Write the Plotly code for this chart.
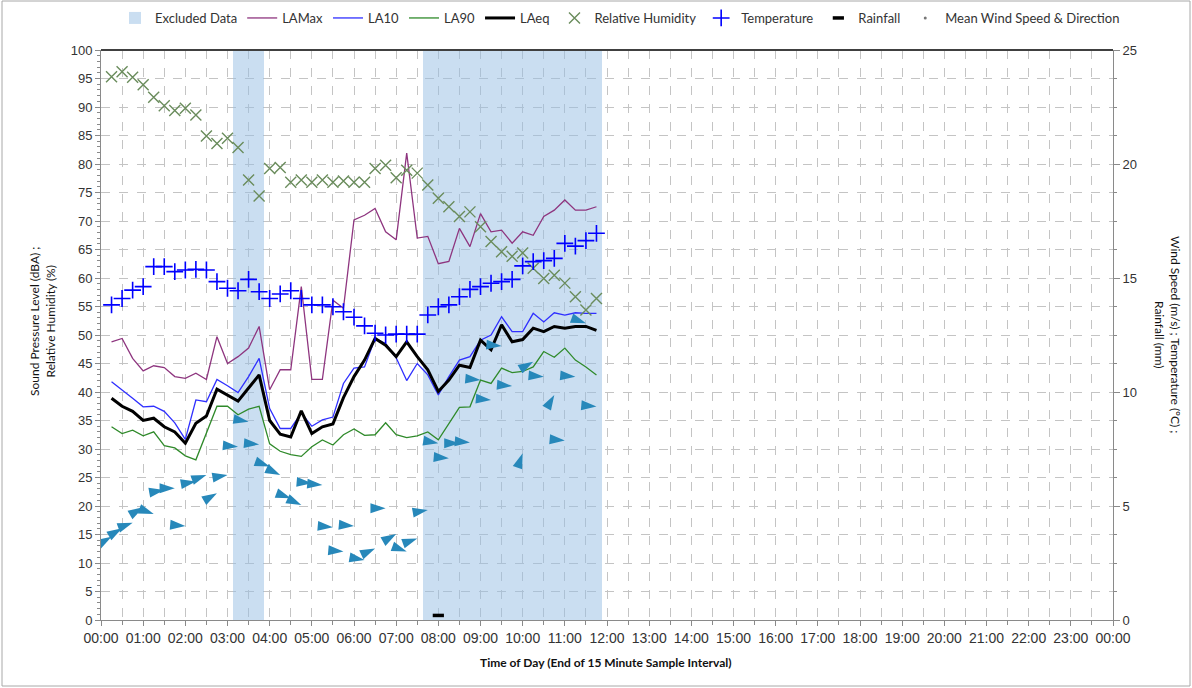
"""Noise monitoring chart: sound levels, weather and wind for one day"""

import pandas as pd
import plotly.graph_objects as go
from plotly.subplots import make_subplots

# 15 minute intervals, end-of-interval time stamps 00:15 .. 11:45
times = pd.date_range("2024-01-01 00:15", periods=47, freq="15min")

la_max = [48.8, 49.4, 45.9, 43.7, 44.6, 44.3, 42.7, 42.4, 43.3, 42.2,
          49.7, 45.0, 46.2, 47.7, 51.5, 40.4, 43.9, 43.9, 58.5, 42.2,
          42.2, 56.1, 54.7, 70.2, 71.0, 72.2, 68.1, 66.7, 81.9, 67.0,
          67.3, 62.5, 62.9, 68.7, 65.5, 71.3, 68.1, 68.4, 66.1, 68.1,
          67.5, 70.8, 71.9, 73.7, 71.9, 71.9, 72.5]
la_10 = [41.8, 40.4, 38.9, 37.4, 37.5, 36.6, 34.6, 31.7, 38.6, 38.3,
         42.2, 41.1, 39.9, 42.7, 45.9, 37.1, 33.6, 33.6, 36.3, 34.0,
         35.1, 35.6, 41.5, 44.2, 44.4, 49.4, 48.5, 46.0, 42.0, 45.0,
         43.0, 39.5, 42.7, 45.6, 46.2, 49.1, 50.0, 53.2, 50.6, 50.6,
         53.8, 52.3, 53.9, 53.5, 53.9, 53.8, 53.8]
la_90 = [33.9, 32.7, 33.3, 32.3, 33.0, 30.6, 30.2, 28.8, 28.1, 32.8,
         37.5, 37.5, 36.0, 37.0, 37.5, 30.9, 29.6, 29.0, 28.7, 30.4,
         31.6, 30.7, 32.5, 33.5, 32.4, 32.5, 34.6, 32.5, 32.0, 32.3,
         33.0, 31.6, 34.5, 37.3, 37.4, 42.1, 41.5, 44.2, 43.4, 43.6,
         44.4, 47.1, 46.1, 47.7, 45.6, 44.4, 43.0]
la_eq = [38.9, 37.5, 36.6, 35.0, 35.4, 33.9, 33.0, 31.0, 34.5, 35.8,
         40.5, 39.5, 38.4, 40.7, 43.0, 35.0, 32.6, 32.1, 36.7, 32.7,
         33.9, 34.4, 39.0, 42.7, 45.6, 49.4, 48.2, 46.2, 48.8, 46.2,
         43.9, 40.1, 42.1, 44.7, 44.3, 49.1, 47.4, 51.8, 48.8, 49.2,
         51.2, 50.6, 51.5, 51.2, 51.5, 51.5, 50.8]
humidity = [95.3, 96.2, 95.2, 93.9, 91.7, 90.2, 89.4, 89.8, 88.6, 84.9,
            83.6, 84.5, 82.9, 77.2, 74.4, 79.2, 79.4, 76.8, 77.2, 76.8,
            77.2, 76.8, 77.0, 76.8, 76.8, 79.2, 79.8, 77.6, 78.9, 78.4,
            76.3, 74.0, 72.5, 70.8, 71.6, 69.0, 66.4, 64.6, 63.8, 64.4,
            61.7, 59.9, 60.5, 59.1, 56.7, 54.4, 56.4]
temperature = [13.82, 14.10, 14.47, 14.62, 15.50, 15.50, 15.28, 15.35, 15.38, 15.35,
               14.84, 14.55, 14.44, 14.94, 14.40, 14.10, 14.30, 14.44, 14.10, 13.82,
               13.82, 13.74, 13.52, 13.28, 12.90, 12.58, 12.50, 12.54, 12.54, 12.54,
               13.38, 13.74, 13.82, 14.18, 14.50, 14.62, 14.77, 14.84, 14.94, 15.53,
               15.72, 15.76, 15.86, 16.52, 16.40, 16.64, 16.96]
rainfall = [0.0] * 31 + [0.2] + [0.0] * 15
wind_speed = [3.65, 4.02, 4.27, 4.94, 4.65, 5.70, 5.78, 4.12, 6.07, 6.36,
              5.56, 6.36, 7.60, 8.70, 7.70, 6.73, 6.36, 5.34, 5.04, 6.00,
              5.92, 4.07, 3.00, 4.12, 2.63, 3.14, 4.90, 3.77, 3.00, 3.58,
              4.82, 7.75, 7.09, 7.75, 7.78, 10.53, 9.65, 12.02, 10.26, 7.31,
              11.33, 10.67, 9.87, 7.87, 10.67, 13.01, 9.36]
# direction the arrow points (degrees clockwise from north)
wind_dir = [60, 60, 70, 60, 110, 80, 90, 95, 80, 70,
            60, 80, 95, 100, 95, 110, 115, 110, 115, 95,
            95, 95, 95, 95, 100, 65, 90, 60, 110, 70,
            80, 100, 95, 90, 95, 95, 95, 95, 95, 20,
            60, 95, 30, 95, 95, 110, 95]
excluded = [False] * 12 + [True] * 3 + [False] * 15 + [True] * 17

GRID = "#c4c4c4"
AXIS = "#8a8a8a"
TICK_FONT = dict(family="Liberation Sans", size=13, color="#333333")

fig = make_subplots(specs=[[{"secondary_y": True}]])

# Excluded data shading
fig.add_trace(go.Bar(
    x=times, y=[100 if e else None for e in excluded], width=900000,
    marker=dict(color="rgba(150,190,228,0.5)", line_width=0),
    name="Excluded Data", hoverinfo="skip"), secondary_y=False)

# Noise levels
fig.add_trace(go.Scatter(x=times, y=la_max, mode="lines", name="LAMax",
                         line=dict(color="#8e357f", width=1.3)), secondary_y=False)
fig.add_trace(go.Scatter(x=times, y=la_10, mode="lines", name="LA10",
                         line=dict(color="#2f2fff", width=1.3)), secondary_y=False)
fig.add_trace(go.Scatter(x=times, y=la_90, mode="lines", name="LA90",
                         line=dict(color="#2f8a2a", width=1.3)), secondary_y=False)
fig.add_trace(go.Scatter(x=times, y=la_eq, mode="lines", name="LAeq",
                         line=dict(color="#000000", width=3)), secondary_y=False)

# Weather
fig.add_trace(go.Scatter(x=times, y=humidity, mode="markers", name="Relative Humidity",
                         marker=dict(symbol="x-thin-open", size=11, color="#6a8c5c",
                                     line=dict(color="#6a8c5c", width=1.4))),
              secondary_y=False)
fig.add_trace(go.Scatter(x=times, y=temperature, mode="markers", name="Temperature",
                         marker=dict(symbol="cross-thin-open", size=12, color="#0000ff",
                                     line=dict(color="#0000ff", width=1.6))),
              secondary_y=True)
fig.add_trace(go.Scatter(x=times, y=[r if r > 0 else None for r in rainfall],
                         mode="markers", name="Rainfall",
                         marker=dict(symbol="line-ew-open", size=8, color="#000000",
                                     line=dict(color="#000000", width=3.5))),
              secondary_y=True)
fig.add_trace(go.Scatter(x=times, y=wind_speed, mode="markers", showlegend=False,
                         marker=dict(symbol="arrow", size=16, angle=wind_dir,
                                     color="#2788ba", line=dict(width=0))),
              secondary_y=True)
fig.add_trace(go.Scatter(x=[None], y=[None], mode="markers",
                         name="Mean Wind Speed & Direction",
                         marker=dict(size=3, color="#777777")), secondary_y=True)

fig.update_xaxes(
    type="date", domain=[0, 1], range=["2024-01-01 00:00", "2024-01-02 00:00"],
    dtick=3600000, tick0="2024-01-01 00:00", tickformat="%H:%M",
    tickfont=dict(family="Liberation Sans", size=14, color="#333333"),
    ticks="outside", ticklen=5, tickcolor=AXIS,
    showgrid=True, gridcolor=GRID, griddash="dash", gridwidth=1,
    minor=dict(dtick=1800000, showgrid=True, gridcolor=GRID, griddash="dash",
               ticks="outside", ticklen=4, tickcolor=AXIS),
    showline=True, linecolor=AXIS, linewidth=1, zeroline=False)
fig.update_yaxes(
    range=[0, 100], dtick=5, tickfont=TICK_FONT, ticks="outside", ticklen=5,
    tickcolor=AXIS, showgrid=True, gridcolor=GRID, griddash="dash",
    minor=dict(dtick=1, ticks="outside", ticklen=3, tickcolor=AXIS),
    showline=True, linecolor=AXIS, zeroline=False, secondary_y=False)
fig.update_yaxes(
    range=[0, 25], dtick=5, tickfont=TICK_FONT, ticks="outside", ticklen=6,
    tickcolor=AXIS, showgrid=False,
    minor=dict(dtick=1.25, ticks="outside", ticklen=3, tickcolor=AXIS),
    showline=True, linecolor=AXIS, zeroline=False, secondary_y=True)

W, H = 1192, 688
L, R, T, B = 101, 79, 50, 68
pw, ph = W - L - R, H - T - B

fig.update_layout(
    width=W, height=H,
    margin=dict(l=L, r=R, t=T, b=B, autoexpand=False),
    plot_bgcolor="white", paper_bgcolor="white",
    bargap=0,
    font=dict(family="Lato", size=12, color="#333333"),
    showlegend=True,
    legend=dict(orientation="h", x=(620 - L) / pw, xanchor="center",
                y=(H - B - 18) / ph, yanchor="middle",
                font=dict(family="Lato", size=13, color="#333333"),
                itemwidth=30, bgcolor="rgba(0,0,0,0)"),
    shapes=[
        dict(type="line", xref="paper", yref="paper", x0=0, x1=1, y0=1, y1=1,
             line=dict(color="#404040", width=2)),
        dict(type="rect", xref="paper", yref="paper",
             x0=(2 - L) / pw, x1=(W - 2 - L) / pw,
             y0=(H - B - (H - 2)) / ph, y1=(H - B - 1) / ph,
             line=dict(color="#a8a8a8", width=1)),
    ],
    annotations=[
        dict(text="<b>Time of Day (End of 15 Minute Sample Interval)</b>", xref="paper",
             yref="paper", x=(606 - L) / pw, y=(H - B - 662) / ph, showarrow=False,
             font=dict(family="Lato", size=12, color="#111111"),
             xanchor="center", yanchor="middle"),
        dict(text="Sound Pressure Level (dBA) ;<br>Relative Humidity (%)",
             xref="paper", yref="paper", x=(42 - L) / pw, y=(H - B - 322) / ph,
             showarrow=False, textangle=-90, font=dict(family="Lato", size=12, color="#111111"),
             xanchor="center", yanchor="middle"),
        dict(text="Wind Speed (m/s) ; Temperature (°C) ;<br>Rainfall (mm)",
             xref="paper", yref="paper", x=(1168 - L) / pw, y=(H - B - 335) / ph,
             showarrow=False, textangle=90, font=dict(family="Lato", size=12, color="#111111"),
             xanchor="center", yanchor="middle"),
    ],
)

fig.write_html("out.html", config={"displayModeBar": False},
               post_script="document.body.style.margin='0';")
